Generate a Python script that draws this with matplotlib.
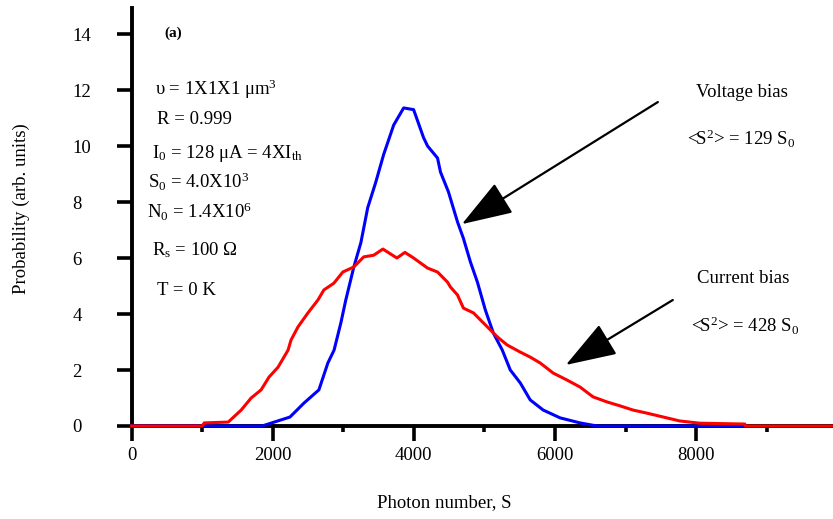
import matplotlib
matplotlib.use('Agg')
import matplotlib.pyplot as plt

plt.rcParams['font.family'] = 'Liberation Serif'
plt.rcParams['mathtext.fontset'] = 'custom'
plt.rcParams['mathtext.rm'] = 'Liberation Serif'
plt.rcParams['mathtext.it'] = 'Liberation Serif:italic'
plt.rcParams['mathtext.bf'] = 'Liberation Serif:bold'

# voltage bias (blue)
blue_s = [0, 1850, 2245, 2444, 2655, 2782, 2870, 2966, 3036, 3150, 3250, 3347, 3460, 3573,
          3715, 3856, 3997, 4138, 4195, 4336, 4378, 4491, 4619, 4703, 4802, 4901, 5014,
          5127, 5254, 5367, 5508, 5650, 5833, 6073, 6356, 6596, 8690]
blue_p = [0, 0, 0.32, 0.82, 1.29, 2.25, 2.71, 3.68, 4.5, 5.68, 6.55, 7.8, 8.7, 9.7,
          10.75, 11.36, 11.3, 10.3, 10.0, 9.57, 9.07, 8.36, 7.29, 6.7, 5.86, 5.14, 4.14,
          3.32, 2.71, 2.0, 1.54, 0.93, 0.57, 0.29, 0.11, 0.0, 0.0]

# current bias (red)
red_s = [0, 1000, 1031, 1370, 1554, 1695, 1836, 1949, 2076, 2218, 2260, 2359, 2500, 2641,
         2726, 2867, 2994, 3150, 3290, 3432, 3562, 3760, 3874, 3997, 4195, 4336, 4477,
         4520, 4619, 4703, 4845, 4943, 5042, 5184, 5325, 5508, 5650, 5791, 5975, 6172,
         6356, 6540, 6737, 6921, 7105, 7302, 7585, 7768, 8051, 8690, 8700, 9940]
red_p = [0, 0, 0.11, 0.14, 0.57, 1.0, 1.29, 1.75, 2.1, 2.71, 3.07, 3.54, 4.04, 4.5,
         4.86, 5.1, 5.5, 5.68, 6.04, 6.1, 6.32, 6.0, 6.2, 6.0, 5.64, 5.5, 5.14,
         4.96, 4.68, 4.21, 4.04, 3.79, 3.54, 3.18, 2.89, 2.64, 2.46, 2.25, 1.89, 1.64,
         1.39, 1.04, 0.86, 0.72, 0.57, 0.46, 0.29, 0.18, 0.1, 0.07, 0, 0]

params = ['υ = 1X1X1 μm$^3$',
          'R = 0.999',
          'I$_0$ = 128 μA = 4XI$_{\\mathrm{th}}$',
          'S$_0$ = 4.0X10$^3$',
          'N$_0$ = 1.4X10$^6$',
          'R$_{\\mathrm{s}}$ = 100 Ω',
          'T = 0 K']
params_pos = [(333, 11.82), (361, 10.79), (290, 9.57), (234, 8.5), (220, 7.43), (290, 6.11), (361, 4.68)]

fig = plt.figure(figsize=(8.33, 5.19), dpi=100)
ax = fig.add_axes([0.1579, 0.1792, 0.8421, 0.8054])

ax.plot(blue_s, blue_p, color='blue', linewidth=2.2, zorder=3, clip_on=False)
ax.plot(red_s, red_p, color='red', linewidth=2.2, zorder=3.1, clip_on=False)

ax.set_xlim(0, 9940)
ax.set_ylim(0, 14.93)

for side in ['top', 'right']:
    ax.spines[side].set_visible(False)
for side in ['left', 'bottom']:
    ax.spines[side].set_linewidth(2.8)

ax.set_xticks(range(0, 10000, 2000))
ax.set_xticks(range(1000, 10000, 2000), minor=True)
ax.set_yticks(range(0, 15, 2))
ax.tick_params(axis='both', which='major', length=11, width=2.6, labelsize=13.5)
ax.tick_params(axis='x', which='minor', length=4.5, width=2.6)
ax.tick_params(axis='x', which='major', pad=4)
ax.tick_params(axis='y', which='major', pad=31.5)
for lab in ax.get_yticklabels():
    lab.set_horizontalalignment('left')

for txt, (sx, py) in zip(params, params_pos):
    ax.text(sx, py, txt, fontsize=13.5, ha='left', va='baseline')

ax.text(460, 13.89, '(a)', fontsize=11, fontweight='bold', ha='left', va='baseline')

ax.text(7996, 11.75, 'Voltage bias', fontsize=13.5, ha='left', va='baseline')
ax.text(7868, 10.04, '<S$^2$> = 129 S$_0$', fontsize=13.5, ha='left', va='baseline')
ax.text(8010, 5.11, 'Current bias', fontsize=13.5, ha='left', va='baseline')
ax.text(7925, 3.36, '<S$^2$> = 428 S$_0$', fontsize=13.5, ha='left', va='baseline')

arrow = dict(arrowstyle='-|>,head_length=3.2,head_width=1.1', mutation_scale=10,
             color='black', linewidth=1.6, shrinkA=0, shrinkB=0)
ax.annotate('', xy=(4681, 7.21), xytext=(7458, 11.57), arrowprops=arrow)
ax.annotate('', xy=(6154, 2.18), xytext=(7670, 4.5), arrowprops=arrow)

fig.text(444 / 833, 1 - 503 / 519, 'Photon number, S', fontsize=13.5, ha='center', va='center')
fig.text(21 / 833, 1 - 209 / 519, 'Probability (arb. units)', fontsize=13.5,
         ha='center', va='center', rotation=90)

plt.savefig('out.png', dpi=100)
